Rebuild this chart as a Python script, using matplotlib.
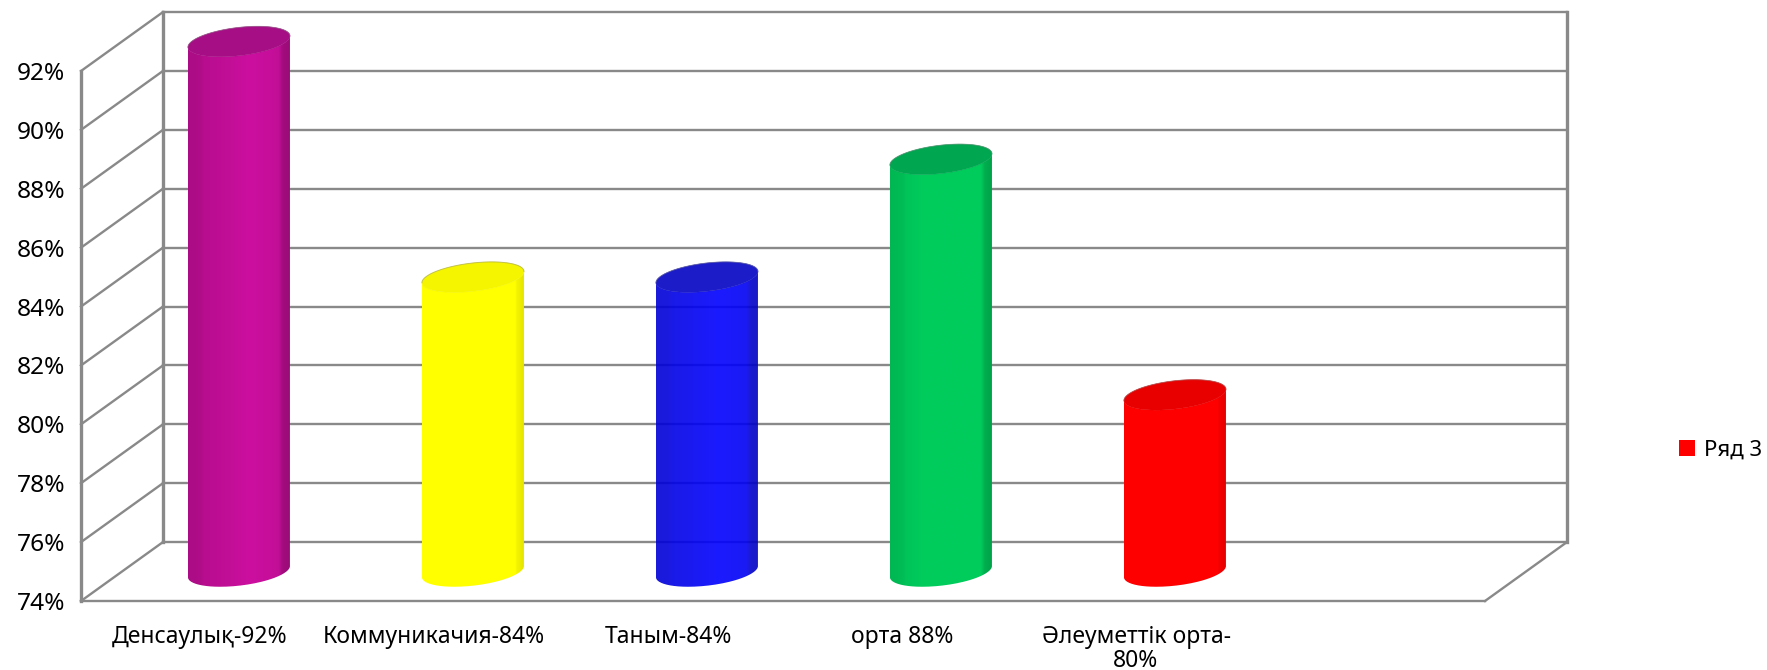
import numpy as np
import matplotlib
matplotlib.use("Agg")
import matplotlib.pyplot as plt
from matplotlib.patches import PathPatch, Patch
from matplotlib.path import Path
from matplotlib.colors import to_rgb
from matplotlib.transforms import ScaledTranslation

categories = ["Денсаулық-92%", "Коммуникачия-84%", "Таным-84%", "орта 88%", "Әлеуметтік орта-\n80%", ""]
values = [92, 84, 84, 88, 80]
bar_colors = ["#CC0F9F", "#FFFF00", "#0000FF", "#00CC5C", "#FF0000"]
top_colors = ["#A60E85", "#F5F500", "#1C1CC8", "#00A650", "#E80000"]
bar_alpha = [1, 1, 0.9, 1, 1]
shade_gain = [1.0, 1.2, 1.0, 1.07, 1.2]
y_ticks = [74, 76, 78, 80, 82, 84, 86, 88, 90, 92]
series_name = "Ряд 3"

W, H = 1767, 670
plt.rcParams["font.family"] = ["Noto Sans", "DejaVu Sans"]
fig = plt.figure(figsize=(W / 100, H / 100), dpi=100)
L, R, T, B = 81, 1485, 71, 601
ax = fig.add_axes([L / W, 1 - B / H, (R - L) / W, (B - T) / H])
ax.set_xlim(0, 6)
ax.set_ylim(74, 92)

GRAY = "#898989"
dx, dy = 0.35, 2.0          # depth vector of the 3-D box, in data units
y0, y1 = y_ticks[0], y_ticks[-1]
kw = dict(color=GRAY, clip_on=False, solid_capstyle="projecting")

# walls
for v in y_ticks:
    ax.plot([0, dx], [v, v + dy], lw=1.7, zorder=1, **kw)
    ax.plot([dx, 6 + dx], [v + dy, v + dy], lw=1.7, zorder=1, **kw)
ax.plot([dx, dx], [y0 + dy, y1 + dy], lw=2.4, zorder=1.1, **kw)
ax.plot([6 + dx, 6 + dx], [y0 + dy, y1 + dy], lw=2.4, zorder=1.1, **kw)
ax.plot([6, 6 + dx], [y0, y0 + dy], lw=1.7, zorder=1, **kw)

# cylinders
half = 0.218
b_e, k_e = 0.48, 0.19
t = np.linspace(0, 2 * np.pi, 181)
stops = [0.0, 0.12, 0.16, 0.35, 0.6, 0.8, 0.88, 0.92, 1.0]
shade = [0.84, 0.86, 0.90, 0.94, 1.0, 0.97, 0.95, 0.80, 0.74]
prof = np.interp(np.linspace(0, 1, 256), stops, shade)

for i, (val, col, tcol) in enumerate(zip(values, bar_colors, top_colors)):
    cx = i + 0.5 + dx / 2
    base = y0 + dy / 2
    top = val + dy / 2
    tf = np.linspace(np.pi, 0, 91)
    xf = cx + half * np.cos(tf)
    front = -b_e * np.sin(tf) + k_e * np.cos(tf)
    bx = np.r_[xf, xf[::-1]]
    by = np.r_[top + front, base + front[::-1]]
    body = PathPatch(Path(np.c_[bx, by]), fc="none", ec="none", transform=ax.transData)
    ax.add_patch(body)
    rgb = np.array(to_rgb(col))
    p = np.clip(prof * shade_gain[i], 0, 1)
    img = np.dstack([p[None, :, None] * rgb[None, None, :],
                     np.full((1, 256, 1), bar_alpha[i])])
    im = ax.imshow(img, extent=[cx - half, cx + half, base - 1, top + 1], aspect="auto",
                   interpolation="bilinear", zorder=2 + i * 0.01)
    im.set_clip_box(fig.bbox)
    im.set_clip_path(body)
    ex = cx + half * np.cos(t)
    ey = top + b_e * np.sin(t) + k_e * np.cos(t)
    ax.fill(ex, ey, fc=tcol, ec=tcol, lw=0.4, zorder=2.5 + i * 0.01, clip_on=False)
    # faint grey rim on the upper arc only
    ax.plot(xf, top + b_e * np.sin(tf) + k_e * np.cos(tf), color=(0.5, 0.5, 0.5, 0.45),
            lw=0.7, zorder=2.6 + i * 0.01, clip_on=False)

ax.set_xlim(0, 6)
ax.set_ylim(74, 92)

for s in ("top", "right"):
    ax.spines[s].set_visible(False)
ax.spines["left"].set_color(GRAY)
ax.spines["left"].set_linewidth(2.4)
ax.spines["bottom"].set_color(GRAY)
ax.spines["bottom"].set_linewidth(1.7)
ax.patch.set_alpha(0)

ax.set_yticks(y_ticks)
ax.set_yticklabels([f"{v}%" for v in y_ticks], fontsize=17.6, color="#000000")
ax.set_xticks(np.arange(6) + 0.5)
ax.set_xticklabels(categories, fontsize=16.5, color="#000000", linespacing=1.0)
ax.tick_params(axis="y", length=0, pad=11.5)
ax.tick_params(axis="x", length=0, pad=17.5)
shift = ScaledTranslation(2 / 100, 0, fig.dpi_scale_trans)
for lab in ax.get_xticklabels():
    lab.set_transform(lab.get_transform() + shift)

handle = Patch(fc="#FF0000", ec="none", label=series_name)
fig.legend(handles=[handle], loc="center left", bbox_to_anchor=(1679 / W, 1 - 450 / H),
           frameon=False, fontsize=16, handlelength=0.72, handleheight=0.72,
           handletextpad=0.4, borderpad=0, borderaxespad=0)

fig.savefig("out.png", dpi=100, facecolor="white")
